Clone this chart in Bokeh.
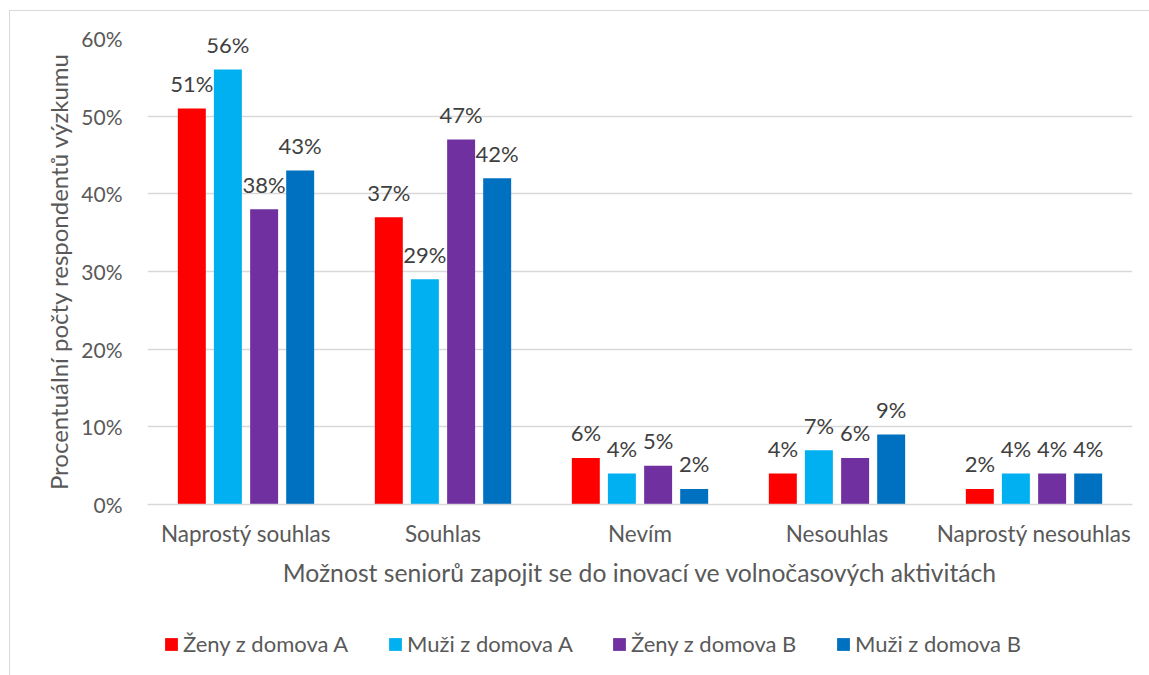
from bokeh.plotting import figure
from bokeh.layouts import column
from bokeh.models import FactorRange, Legend, LegendItem, NumeralTickFormatter, ColumnDataSource
from bokeh.transform import dodge
from bokeh.core.properties import value
from bokeh.embed import file_html
from bokeh.resources import INLINE

categories = ["Naprostý souhlas", "Souhlas", "Nevím", "Nesouhlas", "Naprostý nesouhlas"]
series_names = ["Ženy z domova A", "Muži z domova A", "Ženy z domova B", "Muži z domova B"]
zeny_a = [0.51, 0.37, 0.06, 0.04, 0.02]
muzi_a = [0.56, 0.29, 0.04, 0.07, 0.04]
zeny_b = [0.38, 0.47, 0.05, 0.06, 0.04]
muzi_b = [0.43, 0.42, 0.02, 0.09, 0.04]
colors = ["#FF0000", "#00B0F0", "#7030A0", "#0070C0"]
y_ticks = [0, 0.1, 0.2, 0.3, 0.4, 0.5, 0.6]
x_title = "Možnost seniorů zapojit se do inovací ve volnočasových aktivitách"
y_title = "Procentuální počty respondentů výzkumu"

FONT = "Lato"
series = [zeny_a, muzi_a, zeny_b, muzi_b]
offsets = [-0.275, -0.092, 0.092, 0.275]

p = figure(x_range=FactorRange(*categories), y_range=(0, 0.6),
           width=1139, height=599, output_backend="svg", toolbar_location=None,
           min_border_left=137, min_border_top=27, min_border_right=17, min_border_bottom=106)
p.outline_line_color = None
p.background_fill_color = "white"
p.border_fill_color = "white"

for name, vals, col, off in zip(series_names, series, colors, offsets):
    src = ColumnDataSource(dict(cat=categories, val=vals,
                                lbl=[f"{round(v * 100)}%" for v in vals]))
    p.vbar(x=dodge("cat", off, range=p.x_range), top="val", width=0.142,
           source=src, fill_color=col, line_color=None)
    p.text(x=dodge("cat", off, range=p.x_range), y="val", text="lbl", source=src,
           text_align="center", text_baseline="alphabetic", y_offset=-25,
           text_font=value(FONT), text_font_size="22px", text_color="#404040")

p.yaxis.ticker = y_ticks
p.yaxis.formatter = NumeralTickFormatter(format="0%")
p.ygrid.grid_line_color = "#d9d9d9"
p.ygrid.grid_line_width = 1.3
p.xgrid.grid_line_color = None

for ax in (p.xaxis[0], p.yaxis[0]):
    ax.axis_line_color = None
    ax.major_tick_line_color = None
    ax.minor_tick_line_color = None
    ax.major_label_text_font = FONT
    ax.major_label_text_color = "#595959"
    ax.axis_label_text_font = FONT
    ax.axis_label_text_color = "#595959"
    ax.axis_label_text_font_style = "normal"

p.yaxis.major_label_text_font_size = "21px"
p.xaxis.major_label_text_font_size = "22.5px"
p.xaxis.axis_label_text_font_size = "24.7px"
p.yaxis.axis_label_text_font_size = "24px"
p.xaxis.axis_label = x_title
p.yaxis.axis_label = y_title
p.xaxis.axis_line_color = "#d9d9d9"
p.xaxis.axis_line_width = 1.3
p.yaxis.major_label_standoff = 19
p.yaxis.axis_label_standoff = 5
p.xaxis.major_label_standoff = 9
p.xaxis.axis_label_standoff = 8

# legend in a separate strip below the chart
p2 = figure(x_range=(0, 1), y_range=(0, 1), width=1139, height=65,
            output_backend="svg", toolbar_location=None,
            min_border_left=0, min_border_right=0, min_border_top=0, min_border_bottom=0)
p2.axis.visible = False
p2.grid.visible = False
p2.outline_line_color = None
items = []
for name, col in zip(series_names, colors):
    # zero-height proxy bar outside the visible range, only for the legend swatch
    r = p2.vbar(x=[-10], top=[0], width=0.1, fill_color=col, line_color=None)
    items.append(LegendItem(label=name, renderers=[r]))
legend = Legend(items=items, orientation="horizontal", location=(16, 18),
                glyph_width=16, glyph_height=16, label_standoff=4, label_width=204,
                spacing=0, padding=0, margin=0, border_line_color=None,
                background_fill_alpha=0,
                label_text_font=FONT, label_text_font_size="22px", label_text_color="#595959")
p2.add_layout(legend, "center")

layout = column(p, p2, spacing=0,
                styles={"border-left": "1px solid #d9d9d9", "border-top": "1px solid #d9d9d9",
                        "margin-left": "9px", "margin-top": "10px"})

open("out.html", "w").write(file_html(layout, INLINE))
